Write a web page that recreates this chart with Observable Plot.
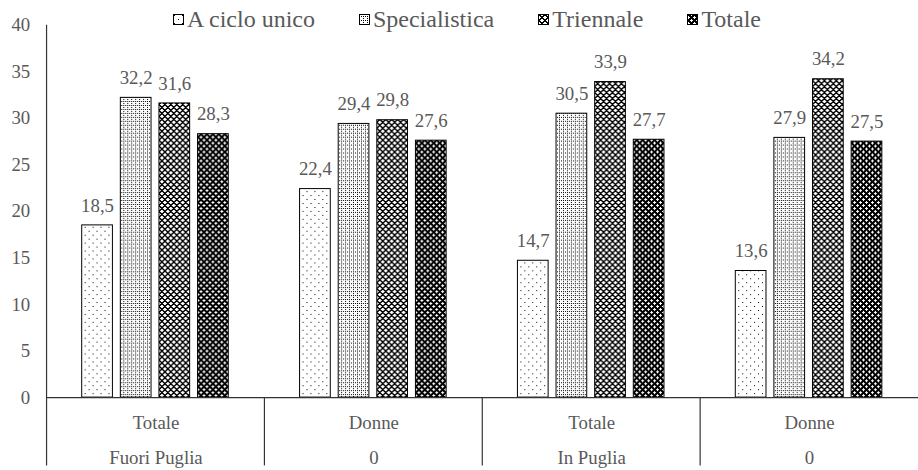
<!DOCTYPE html>
<html>
<head>
<meta charset="utf-8">
<script src="https://cdn.jsdelivr.net/npm/d3@7"></script>
<script src="https://cdn.jsdelivr.net/npm/@observablehq/plot@0.6"></script>
<style>
  html, body { margin: 0; padding: 0; background: #fff; overflow: hidden; }
  #wrap { position: relative; width: 918px; height: 470px; overflow: hidden; }
  #legend { position: absolute; top: 5px; left: 173px; display: flex; gap: 44px; align-items: center;
            font-family: "Liberation Serif", "Times New Roman", serif; font-size: 24px; color: #595959; line-height: 28px; }
  #legend .item { display: flex; align-items: center; gap: 3px; white-space: nowrap; }
  #legend svg { display: block; }
</style>
</head>
<body>
<div id="wrap">
  <svg id="defs" width="0" height="0" style="position:absolute"></svg>
  <div id="chart"></div>
  <div id="legend"></div>
</div>
<script>
// ---- data ----
const groups = ["g1", "g2", "g3", "g4"];
const subLabels = ["Totale", "Donne", "Totale", "Donne"];
const topLabels = ["Fuori Puglia", "0", "In Puglia", "0"];
const seriesNames = ["A ciclo unico", "Specialistica", "Triennale", "Totale"];
const aCicloUnico = [18.5, 22.4, 14.7, 13.6];
const specialistica = [32.2, 29.4, 30.5, 27.9];
const triennale = [31.6, 29.8, 33.9, 34.2];
const totale = [28.3, 27.6, 27.7, 27.5];
const yTicks = [0, 5, 10, 15, 20, 25, 30, 35, 40];

const seriesValues = [aCicloUnico, specialistica, triennale, totale];
const rows = groups.flatMap((g, i) => seriesNames.map((s, j) => ({g, s, v: seriesValues[j][i]})));
const groupRows = groups.map((g, i) => ({g, sub: subLabels[i], top: topLabels[i]}));

// ---- patterns ----
const patternIds = ["pA", "pS", "pT", "pK"];
const patternDefs = [
  {id: "pA", size: 8, test: (x, y) => (x === 1 && y === 1) || (x === 5 && y === 5)},
  {id: "pS", size: 4, test: (x, y) => (x === 0 && y === 0) || (x === 2 && y === 2) || (x === 0 && y === 2)},
  {id: "pT", size: 6, test: (x, y) => (x + y) % 6 < 2 || (x - y + 6) % 6 < 2},
  {id: "pK", size: 6, test: (x, y) => (x + y) % 6 < 3 || (x - y + 6) % 6 < 3}
];
const defs = d3.select("#defs").append("defs");
for (const p of patternDefs) {
  const pat = defs.append("pattern").attr("id", p.id).attr("patternUnits", "userSpaceOnUse")
    .attr("width", p.size).attr("height", p.size);
  pat.append("rect").attr("width", p.size).attr("height", p.size).attr("fill", "#fff");
  for (let x = 0; x < p.size; x++) for (let y = 0; y < p.size; y++) {
    if (p.test(x, y)) pat.append("rect").attr("x", x).attr("y", y).attr("width", 1).attr("height", 1)
      .attr("fill", "#000").attr("shape-rendering", "crispEdges");
  }
}

const font = '"Liberation Serif", "Times New Roman", serif';
const textColor = "#595959";
const fmt = v => v.toFixed(1).replace(".", ",");

const plot = Plot.plot({
  width: 927,
  height: 470,
  marginLeft: 46.5,
  marginRight: 0,
  marginTop: 25,
  marginBottom: 69,
  style: {fontFamily: font, fontSize: "19px", color: textColor, background: "transparent", overflow: "visible"},
  fx: {domain: groups, padding: 0, axis: null, label: null},
  x: {domain: seriesNames, paddingInner: 0.2, paddingOuter: 0.87, axis: null},
  y: {domain: [0, 40], ticks: yTicks, tickSize: 0, tickPadding: 17, tickFormat: d => String(d), label: null},
  color: {domain: seriesNames, range: patternIds.map(id => `url(#${id})`)},
  marks: [
    Plot.barY(rows, {fx: "g", x: "s", y: "v", fill: "s", stroke: "#000", strokeWidth: 1}),
    Plot.text(rows, {fx: "g", x: "s", y: "v", text: d => fmt(d.v), dy: -20, fill: textColor, fontSize: 19, fontFamily: font}),
    Plot.ruleY([0], {stroke: "#333", strokeWidth: 1.2}),
    Plot.text(groupRows, {fx: "g", text: "sub", frameAnchor: "bottom", lineAnchor: "middle", dy: 26, fill: textColor, fontSize: 19, fontFamily: font}),
    Plot.text(groupRows, {fx: "g", text: "top", frameAnchor: "bottom", lineAnchor: "middle", dy: 61, fill: textColor, fontSize: 19, fontFamily: font})
  ]
});
document.getElementById("chart").appendChild(plot);

// category separators and y-axis line, placed through the plot's scales
const fxS = plot.scale("fx");
const yS = plot.scale("y");
const svg = d3.select(plot);
groups.forEach((g, i) => {
  const x = fxS.apply(g);
  svg.append("line")
    .attr("x1", x).attr("x2", x)
    .attr("y1", i === 0 ? yS.apply(40) : yS.apply(0))
    .attr("y2", 470)
    .attr("stroke", "#333").attr("stroke-width", 1.2);
});

// legend
const legend = d3.select("#legend");
seriesNames.forEach((s, i) => {
  const item = legend.append("div").attr("class", "item");
  const sw = item.append("svg").attr("width", 11).attr("height", 11);
  sw.append("rect").attr("x", 0.5).attr("y", 0.5).attr("width", 10).attr("height", 10)
    .attr("fill", `url(#${patternIds[i]})`).attr("stroke", "#000").attr("stroke-width", 1);
  item.append("span").text(s);
});
</script>
</body>
</html>
